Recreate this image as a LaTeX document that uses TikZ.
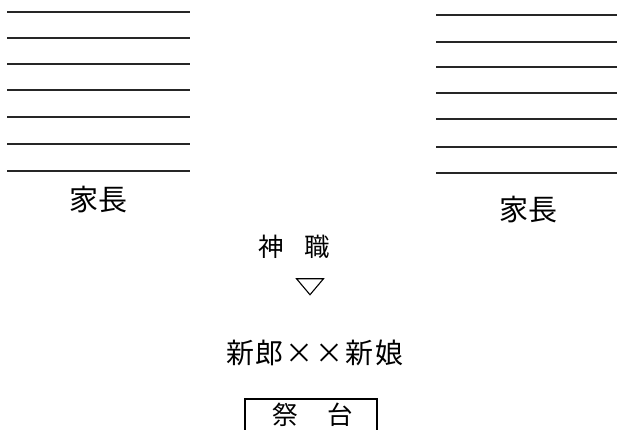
\documentclass[tikz,border=0pt]{standalone}
\usepackage{fontspec}
\usetikzlibrary{shapes.geometric}
\newfontfamily\cjk{Noto Sans CJK JP}
\newcommand{\cell}[1]{\makebox[30pt][c]{#1}}
\begin{document}
\begin{tikzpicture}[x=1pt,y=-1pt,
  rule/.style={line width=1.1pt, black!85},
  bigtxt/.style={font=\cjk\fontsize{29}{30}\selectfont, inner sep=0pt},
  midtxt/.style={font=\cjk\fontsize{28}{30}\selectfont, inner sep=0pt},
  smalltxt/.style={font=\cjk\fontsize{25.5}{26}\selectfont, inner sep=0pt}]
\useasboundingbox (0,0) rectangle (618,430);
% left family lines
\foreach \y [count=\i] in {12,38,64,90,117,144,171}{
  \coordinate (la\i) at (7,\y); \coordinate (lb\i) at (190,\y);
  \draw[rule] (la\i) -- (lb\i);}
% right family lines
\foreach \y [count=\i] in {15,42,67,93,119,147,173}{
  \coordinate (ra\i) at (436,\y); \coordinate (rb\i) at (617,\y);
  \draw[rule] (ra\i) -- (rb\i);}
\node[bigtxt] (famL) at (98,200) {家長};
\node[bigtxt] (famR) at (528,210) {家長};
\node[smalltxt] (priest1) at (271,247) {神};
\node[smalltxt] (priest2) at (317,247) {職};
\node[draw, line width=1.1pt, isosceles triangle, shape border rotate=-90, isosceles triangle apex angle=76, isosceles triangle stretches, minimum width=27pt, minimum height=16pt, inner sep=0pt] (tri) at (310,285) {};
\node[midtxt] (couple) at (315,353) {\cell{新}\cell{郎}\cell{×}\cell{×}\cell{新}\cell{娘}};
\coordinate (bl) at (245,432);
\coordinate (tl) at (245,399);
\coordinate (tr) at (377,399);
\coordinate (br) at (377,432);
\draw[line width=1.1pt] (bl) -- (tl) -- (tr) -- (br);
\node[smalltxt] (alt1) at (285,415) {祭};
\node[smalltxt] (alt2) at (340,415) {台};
\end{tikzpicture}
\end{document}
